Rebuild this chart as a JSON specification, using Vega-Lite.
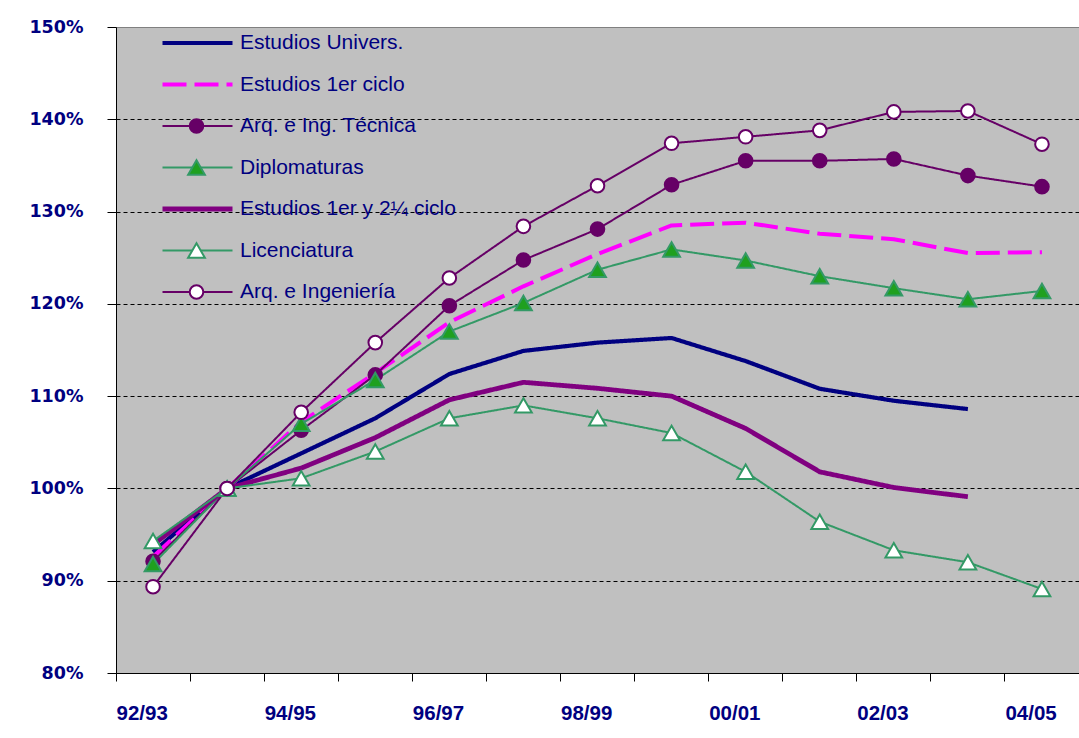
{
  "$schema": "https://vega.github.io/schema/vega-lite/v6.json",
  "width": 963,
  "height": 646,
  "autosize": {"type": "none"},
  "padding": {"left": 116, "top": 27, "right": 0, "bottom": 65},
  "background": "white",
  "config": {
    "view": {"fill": "#C0C0C0", "stroke": "#808080", "strokeWidth": 1},
    "axis": {"domainColor": "black", "tickColor": "black", "title": null}
  },
  "data": {"values": [
    {"c":"92/93","s":"Estudios Univers.","v":0.931},{"c":"93/94","s":"Estudios Univers.","v":1.0},{"c":"94/95","s":"Estudios Univers.","v":1.038},{"c":"95/96","s":"Estudios Univers.","v":1.076},{"c":"96/97","s":"Estudios Univers.","v":1.124},{"c":"97/98","s":"Estudios Univers.","v":1.149},{"c":"98/99","s":"Estudios Univers.","v":1.158},{"c":"99/00","s":"Estudios Univers.","v":1.163},{"c":"00/01","s":"Estudios Univers.","v":1.138},{"c":"01/02","s":"Estudios Univers.","v":1.108},{"c":"02/03","s":"Estudios Univers.","v":1.095},{"c":"03/04","s":"Estudios Univers.","v":1.086},
    {"c":"92/93","s":"Estudios 1er ciclo","v":0.926},{"c":"93/94","s":"Estudios 1er ciclo","v":1.0},{"c":"94/95","s":"Estudios 1er ciclo","v":1.072},{"c":"95/96","s":"Estudios 1er ciclo","v":1.125},{"c":"96/97","s":"Estudios 1er ciclo","v":1.18},{"c":"97/98","s":"Estudios 1er ciclo","v":1.219},{"c":"98/99","s":"Estudios 1er ciclo","v":1.254},{"c":"99/00","s":"Estudios 1er ciclo","v":1.285},{"c":"00/01","s":"Estudios 1er ciclo","v":1.288},{"c":"01/02","s":"Estudios 1er ciclo","v":1.276},{"c":"02/03","s":"Estudios 1er ciclo","v":1.27},{"c":"03/04","s":"Estudios 1er ciclo","v":1.255},{"c":"04/05","s":"Estudios 1er ciclo","v":1.256},
    {"c":"92/93","s":"Arq. e Ing. Técnica","v":0.921},{"c":"93/94","s":"Arq. e Ing. Técnica","v":1.0},{"c":"94/95","s":"Arq. e Ing. Técnica","v":1.063},{"c":"95/96","s":"Arq. e Ing. Técnica","v":1.123},{"c":"96/97","s":"Arq. e Ing. Técnica","v":1.198},{"c":"97/98","s":"Arq. e Ing. Técnica","v":1.2475},{"c":"98/99","s":"Arq. e Ing. Técnica","v":1.281},{"c":"99/00","s":"Arq. e Ing. Técnica","v":1.329},{"c":"00/01","s":"Arq. e Ing. Técnica","v":1.355},{"c":"01/02","s":"Arq. e Ing. Técnica","v":1.355},{"c":"02/03","s":"Arq. e Ing. Técnica","v":1.357},{"c":"03/04","s":"Arq. e Ing. Técnica","v":1.339},{"c":"04/05","s":"Arq. e Ing. Técnica","v":1.327},
    {"c":"92/93","s":"Diplomaturas","v":0.918},{"c":"93/94","s":"Diplomaturas","v":1.0},{"c":"94/95","s":"Diplomaturas","v":1.07},{"c":"95/96","s":"Diplomaturas","v":1.1175},{"c":"96/97","s":"Diplomaturas","v":1.17},{"c":"97/98","s":"Diplomaturas","v":1.201},{"c":"98/99","s":"Diplomaturas","v":1.237},{"c":"99/00","s":"Diplomaturas","v":1.259},{"c":"00/01","s":"Diplomaturas","v":1.247},{"c":"01/02","s":"Diplomaturas","v":1.23},{"c":"02/03","s":"Diplomaturas","v":1.217},{"c":"03/04","s":"Diplomaturas","v":1.205},{"c":"04/05","s":"Diplomaturas","v":1.214},
    {"c":"92/93","s":"Estudios 1er y 2¼ ciclo","v":0.939},{"c":"93/94","s":"Estudios 1er y 2¼ ciclo","v":1.0},{"c":"94/95","s":"Estudios 1er y 2¼ ciclo","v":1.022},{"c":"95/96","s":"Estudios 1er y 2¼ ciclo","v":1.055},{"c":"96/97","s":"Estudios 1er y 2¼ ciclo","v":1.096},{"c":"97/98","s":"Estudios 1er y 2¼ ciclo","v":1.115},{"c":"98/99","s":"Estudios 1er y 2¼ ciclo","v":1.1085},{"c":"99/00","s":"Estudios 1er y 2¼ ciclo","v":1.1},{"c":"00/01","s":"Estudios 1er y 2¼ ciclo","v":1.065},{"c":"01/02","s":"Estudios 1er y 2¼ ciclo","v":1.018},{"c":"02/03","s":"Estudios 1er y 2¼ ciclo","v":1.001},{"c":"03/04","s":"Estudios 1er y 2¼ ciclo","v":0.991},
    {"c":"92/93","s":"Licenciatura","v":0.943},{"c":"93/94","s":"Licenciatura","v":1.0},{"c":"94/95","s":"Licenciatura","v":1.011},{"c":"95/96","s":"Licenciatura","v":1.04},{"c":"96/97","s":"Licenciatura","v":1.076},{"c":"97/98","s":"Licenciatura","v":1.09},{"c":"98/99","s":"Licenciatura","v":1.076},{"c":"99/00","s":"Licenciatura","v":1.06},{"c":"00/01","s":"Licenciatura","v":1.018},{"c":"01/02","s":"Licenciatura","v":0.964},{"c":"02/03","s":"Licenciatura","v":0.933},{"c":"03/04","s":"Licenciatura","v":0.92},{"c":"04/05","s":"Licenciatura","v":0.891},
    {"c":"92/93","s":"Arq. e Ingeniería","v":0.8935},{"c":"93/94","s":"Arq. e Ingeniería","v":1.0},{"c":"94/95","s":"Arq. e Ingeniería","v":1.0825},{"c":"95/96","s":"Arq. e Ingeniería","v":1.158},{"c":"96/97","s":"Arq. e Ingeniería","v":1.228},{"c":"97/98","s":"Arq. e Ingeniería","v":1.284},{"c":"98/99","s":"Arq. e Ingeniería","v":1.328},{"c":"99/00","s":"Arq. e Ingeniería","v":1.374},{"c":"00/01","s":"Arq. e Ingeniería","v":1.381},{"c":"01/02","s":"Arq. e Ingeniería","v":1.388},{"c":"02/03","s":"Arq. e Ingeniería","v":1.408},{"c":"03/04","s":"Arq. e Ingeniería","v":1.409},{"c":"04/05","s":"Arq. e Ingeniería","v":1.373}
  ]},
  "encoding": {
    "x": {
      "field": "c", "type": "ordinal", "sort": null,
      "scale": {"type": "band", "paddingInner": 0, "paddingOuter": 0},
      "axis": {
        "bandPosition": 0, "labelAngle": 0, "labelAlign": "left", "labelOffset": -36.5,
        "labelBaseline": "alphabetic", "labelPadding": 38, "tickSize": 8,
        "labelFont": "Liberation Sans", "labelFontWeight": "bold", "labelFontSize": 20.5,
        "labelColor": "#000080", "labelOverlap": false, "grid": false,
        "labelExpr": "indexof(['92/93','94/95','96/97','98/99','00/01','02/03','04/05'], datum.value) >= 0 ? datum.label : ''"
      }
    },
    "y": {
      "field": "v", "type": "quantitative",
      "scale": {"domain": [0.8, 1.5], "nice": false, "zero": false},
      "axis": {
        "values": [0.8, 0.9, 1.0, 1.1, 1.2, 1.3, 1.4, 1.5], "format": ".0%",
        "tickSize": 9, "labelPadding": 24,
        "labelFont": "DejaVu Sans", "labelFontWeight": "bold", "labelFontSize": 17.5, "labelColor": "#000080",
        "grid": true, "gridColor": "black", "gridDash": [4, 3], "gridWidth": 1,
        "gridOpacity": {"condition": {"test": "datum.value < 0.85 || datum.value > 1.45", "value": 0}, "value": 1}
      }
    }
  },
  "layer": [
    {
      "mark": {"type": "line", "strokeJoin": "round"},
      "encoding": {
        "color": {
          "field": "s", "type": "nominal",
          "scale": {
            "domain": ["Estudios Univers.", "Estudios 1er ciclo", "Arq. e Ing. Técnica", "Diplomaturas", "Estudios 1er y 2¼ ciclo", "Licenciatura", "Arq. e Ingeniería"],
            "range": ["#000080", "#FF00FF", "#660066", "#339966", "#800080", "#339966", "#660066"]
          },
          "legend": {
            "orient": "none", "legendX": 44, "legendY": 5.5, "title": null,
            "symbolType": "stroke", "symbolSize": 4900, "clipHeight": 21, "rowPadding": 19.5,
            "labelFont": "Liberation Sans", "labelFontSize": 21, "labelColor": "#000080",
            "labelLimit": 400, "labelOffset": 5, "padding": 0
          }
        },
        "strokeDash": {
          "field": "s", "type": "nominal",
          "scale": {
            "domain": ["Estudios Univers.", "Estudios 1er ciclo", "Arq. e Ing. Técnica", "Diplomaturas", "Estudios 1er y 2¼ ciclo", "Licenciatura", "Arq. e Ingeniería"],
            "range": [[1, 0], [24, 8], [1, 0], [1, 0], [1, 0], [1, 0], [1, 0]]
          },
          "legend": {
            "orient": "none", "legendX": 44, "legendY": 5.5, "title": null,
            "symbolType": "stroke", "symbolSize": 4900, "clipHeight": 21, "rowPadding": 19.5,
            "labelFont": "Liberation Sans", "labelFontSize": 21, "labelColor": "#000080",
            "labelLimit": 400, "labelOffset": 5, "padding": 0
          }
        },
        "strokeWidth": {
          "field": "s", "type": "nominal",
          "scale": {
            "type": "ordinal",
            "domain": ["Estudios Univers.", "Estudios 1er ciclo", "Arq. e Ing. Técnica", "Diplomaturas", "Estudios 1er y 2¼ ciclo", "Licenciatura", "Arq. e Ingeniería"],
            "range": [4.2, 4, 2, 2, 4.8, 2, 2]
          },
          "legend": {
            "orient": "none", "legendX": 44, "legendY": 5.5, "title": null,
            "symbolType": "stroke", "symbolSize": 4900, "clipHeight": 21, "rowPadding": 19.5,
            "labelFont": "Liberation Sans", "labelFontSize": 21, "labelColor": "#000080",
            "labelLimit": 400, "labelOffset": 5, "padding": 0
          }
        }
      }
    },
    {
      "mark": {"type": "point", "filled": true, "strokeWidth": 2, "opacity": 1},
      "encoding": {
        "shape": {
          "field": "s", "type": "nominal",
          "scale": {
            "domain": ["Estudios Univers.", "Estudios 1er ciclo", "Arq. e Ing. Técnica", "Diplomaturas", "Estudios 1er y 2¼ ciclo", "Licenciatura", "Arq. e Ingeniería", "zz"],
            "range": ["circle", "circle", "circle", "triangle-up", "circle", "triangle-up", "circle", "circle"]
          },
          "legend": {
            "orient": "none", "legendX": 70, "legendY": 5.5, "title": null,
            "symbolStrokeWidth": 2, "clipHeight": 21, "rowPadding": 19.5,
            "labelFontSize": 21, "labelExpr": "''", "padding": 0, "symbolOpacity": 1
          }
        },
        "fill": {
          "field": "s", "type": "nominal",
          "scale": {
            "domain": ["Estudios Univers.", "Estudios 1er ciclo", "Arq. e Ing. Técnica", "Diplomaturas", "Estudios 1er y 2¼ ciclo", "Licenciatura", "Arq. e Ingeniería", "zz"],
            "range": ["transparent", "transparent", "#660066", "#1FA01F", "transparent", "#FFFFFF", "#FFFFFF", "transparent"]
          },
          "legend": {
            "orient": "none", "legendX": 70, "legendY": 5.5, "title": null,
            "symbolStrokeWidth": 2, "clipHeight": 21, "rowPadding": 19.5,
            "labelFontSize": 21, "labelExpr": "''", "padding": 0, "symbolOpacity": 1
          }
        },
        "stroke": {
          "field": "s", "type": "nominal",
          "scale": {
            "domain": ["Estudios Univers.", "Estudios 1er ciclo", "Arq. e Ing. Técnica", "Diplomaturas", "Estudios 1er y 2¼ ciclo", "Licenciatura", "Arq. e Ingeniería", "zz"],
            "range": ["transparent", "transparent", "#660066", "#339966", "transparent", "#339966", "#660066", "transparent"]
          },
          "legend": {
            "orient": "none", "legendX": 70, "legendY": 5.5, "title": null,
            "symbolStrokeWidth": 2, "clipHeight": 21, "rowPadding": 19.5,
            "labelFontSize": 21, "labelExpr": "''", "padding": 0, "symbolOpacity": 1
          }
        },
        "size": {
          "field": "s", "type": "nominal",
          "scale": {
            "type": "ordinal",
            "domain": ["Estudios Univers.", "Estudios 1er ciclo", "Arq. e Ing. Técnica", "Diplomaturas", "Estudios 1er y 2¼ ciclo", "Licenciatura", "Arq. e Ingeniería", "zz"],
            "range": [185, 185, 185, 280, 185, 280, 185, 185]
          },
          "legend": {
            "orient": "none", "legendX": 70, "legendY": 5.5, "title": null,
            "symbolStrokeWidth": 2, "clipHeight": 21, "rowPadding": 19.5,
            "labelFontSize": 21, "labelExpr": "''", "padding": 0, "symbolOpacity": 1
          }
        }
      }
    }
  ]
}
